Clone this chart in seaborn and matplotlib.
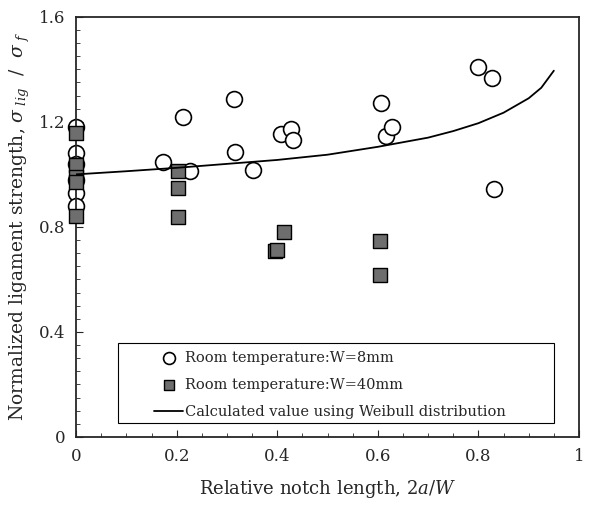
import numpy as np
import pandas as pd
import matplotlib
matplotlib.use("Agg")
import matplotlib.pyplot as plt
from matplotlib.patches import Rectangle
from matplotlib.ticker import MultipleLocator
import seaborn as sns

# --- Data ---
w8_x = [0, 0, 0, 0, 0, 0, 0.172, 0.213, 0.227, 0.313, 0.316, 0.352,
        0.408, 0.427, 0.432, 0.606, 0.616, 0.629, 0.799, 0.827, 0.830]
w8_y = [1.18, 1.08, 1.04, 0.98, 0.93, 0.88, 1.046, 1.22, 1.011, 1.288, 1.085, 1.015,
        1.153, 1.172, 1.131, 1.271, 1.147, 1.182, 1.408, 1.366, 0.943]

w40_x = [0, 0, 0, 0, 0, 0.203, 0.202, 0.202, 0.414, 0.395, 0.399, 0.604, 0.604]
w40_y = [1.157, 1.036, 0.99, 0.97, 0.84, 1.011, 0.947, 0.836, 0.782, 0.71, 0.712, 0.748, 0.617]

weibull_x = [0, 0.1, 0.2, 0.3, 0.4, 0.5, 0.6, 0.7, 0.75, 0.8, 0.85, 0.9, 0.925, 0.95]
weibull_y = [1.0, 1.012, 1.025, 1.04, 1.055, 1.075, 1.105, 1.14, 1.165, 1.195,
             1.235, 1.29, 1.33, 1.395]

x_ticks = [0, 0.2, 0.4, 0.6, 0.8, 1]
x_labels = ["0", "0.2", "0.4", "0.6", "0.8", "1"]
y_ticks = [0, 0.4, 0.8, 1.2, 1.6]
y_labels = ["0", "0.4", "0.8", "1.2", "1.6"]

w8 = pd.DataFrame({"x": w8_x, "y": w8_y})
w40 = pd.DataFrame({"x": w40_x, "y": w40_y})
weibull = pd.DataFrame({"x": weibull_x, "y": weibull_y})

sns.set_style("ticks")
plt.rcParams["font.family"] = ["DejaVu Serif"]
plt.rcParams["mathtext.fontset"] = "dejavuserif"

fig, ax = plt.subplots(figsize=(6.14, 5.11), dpi=100)
fig.subplots_adjust(left=0.124, right=0.943, top=0.967, bottom=0.145)

sns.scatterplot(data=w8, x="x", y="y", ax=ax, marker="o", s=130,
                facecolor="white", edgecolor="black", linewidth=1.2,
                label="Room temperature:W=8mm", zorder=2, clip_on=False)
sns.scatterplot(data=w40, x="x", y="y", ax=ax, marker="s", s=105,
                color="#6e6e6e", edgecolor="black", linewidth=1.0,
                label="Room temperature:W=40mm", zorder=3, clip_on=False)
sns.lineplot(data=weibull, x="x", y="y", ax=ax, color="black", linewidth=1.3,
             label="Calculated value using Weibull distribution", zorder=4)

ax.set_xlim(0, 1)
ax.set_ylim(0, 1.6)
ax.set_xticks(x_ticks)
ax.set_xticklabels(x_labels)
ax.set_yticks(y_ticks)
ax.set_yticklabels(y_labels)
ax.xaxis.set_minor_locator(MultipleLocator(0.05))
ax.yaxis.set_minor_locator(MultipleLocator(0.05))
ax.tick_params(which="both", direction="in", labelsize=12, top=False, right=False)
ax.tick_params(which="major", length=5, pad=8)
ax.tick_params(which="minor", length=3)
for sp in ax.spines.values():
    sp.set_linewidth(1.3)
    sp.set_visible(True)

ax.set_xlabel("Relative notch length, $2a/W$", fontsize=13, labelpad=9)
ax.set_ylabel(r"Normalized ligament strength, $\sigma_{\ lig}$  /  $\sigma_{\ f}$",
              fontsize=13.5, labelpad=5)

# legend: plain entries inside a wide square box
leg = ax.legend(loc="center left", bbox_to_anchor=(0.155, 0.124),
                frameon=False, fontsize=10.5, markerscale=0.75,
                handlelength=2.0, handletextpad=0.1, borderpad=0.0,
                labelspacing=0.88, borderaxespad=0)
ax.add_patch(Rectangle((0.083, 0.033), 0.867, 0.191, transform=ax.transAxes,
                       facecolor="white", edgecolor="black", linewidth=0.8,
                       zorder=5))
leg.set_zorder(6)

fig.savefig("out.png", dpi=100)
